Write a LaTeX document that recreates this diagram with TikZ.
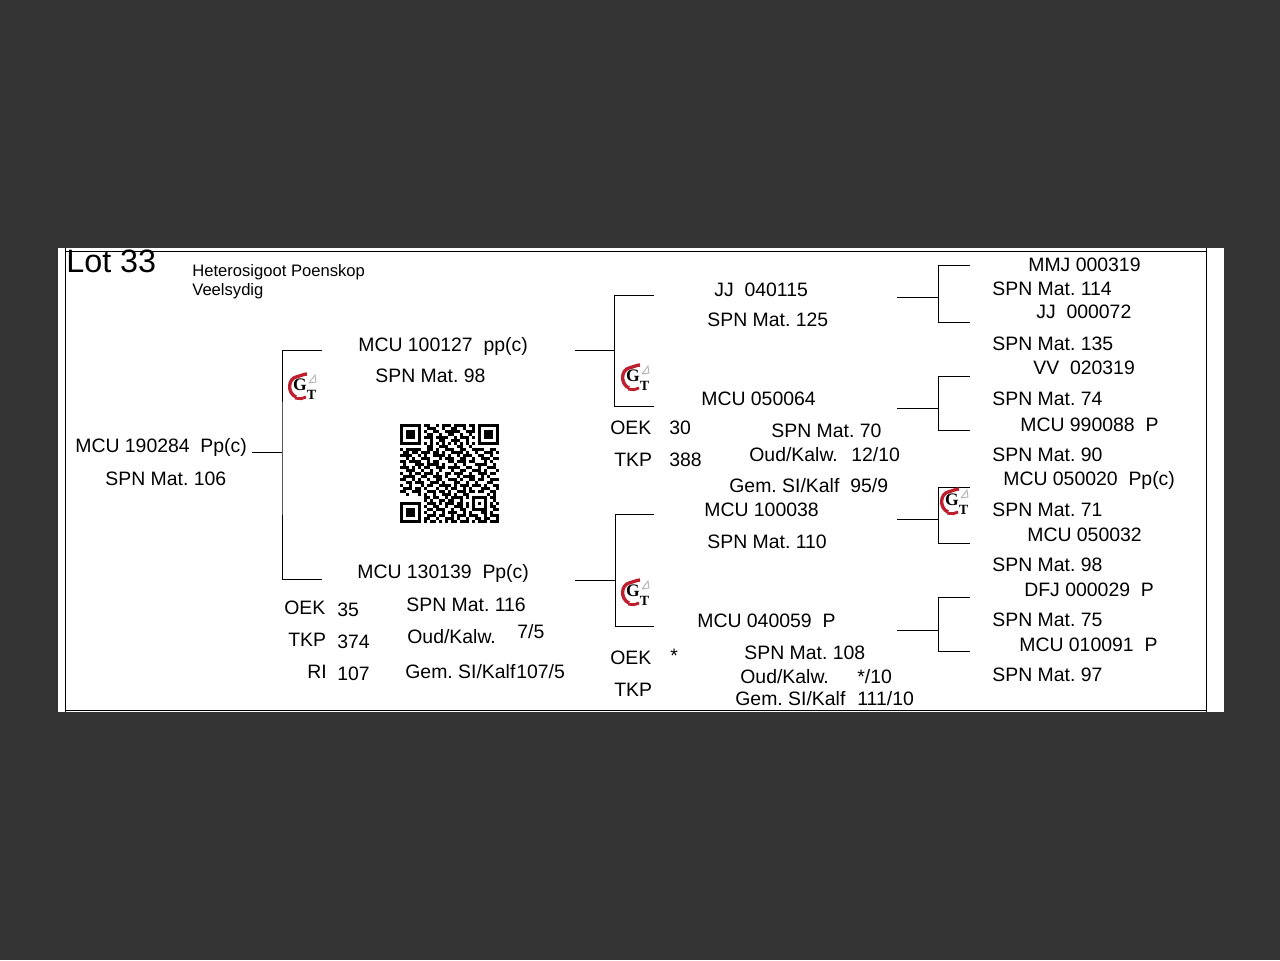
\documentclass[tikz,border=0pt]{standalone}
\usepackage{fontspec}
\setmainfont{Liberation Sans}
\newfontfamily\logofont{Liberation Serif}
\usetikzlibrary{positioning, calc}
\definecolor{cPage}{RGB}{51,51,51}
\definecolor{cLogo}{RGB}{190,30,45}
\tikzset{
	lbl/.style={anchor=base west, inner sep=0pt, font=\frenchspacing\fontsize{11.05}{13}\selectfont, text=black},
	note/.style={anchor=base west, inner sep=0pt, font=\frenchspacing\fontsize{9.45}{11}\selectfont, text=black},
	title/.style={anchor=base west, inner sep=0pt, font=\fontsize{18.4}{20}\selectfont, text=black},
	bracket/.style={draw=black, line width=0.45pt},
	frameline/.style={draw=black, line width=0.55pt},
	pics/gtlogo/.style={code={
		% swoosh, G, T and the small grey bird
		\draw[cLogo, line width=1.9pt] (-7,9) .. controls (-16,5) and (-15,-9) .. (-7,-11) .. controls (-3,-12) and (1,-14) .. (4,-14);
		\draw[cLogo, line width=1.6pt] (-8,10) .. controls (-3,11) and (0,11) .. (3,9);
		\node[inner sep=0pt, text=black, font=\logofont\bfseries\fontsize{10}{11}\selectfont] (-G) at (-3,-3) {G};
		\node[inner sep=0pt, text=black, font=\logofont\bfseries\fontsize{8}{9}\selectfont] (-T) at (8.5,7) {T};
		\draw[black!30, line width=0.5pt] (6,-5) -- (13,-6) -- (12,-13) -- (9,-9) -- (6,-5);
	}},
}
\begin{document}
\begin{tikzpicture}[x=0.02cm, y=-0.02cm]
	\useasboundingbox (0,0) rectangle (1280,960);
	\fill[cPage] (0,0) rectangle (1280,960);
	\fill[white] (58,248) rectangle (1224,712);
	\coordinate (frameNW) at (65.5,251);
	\coordinate (frameNE) at (1206.5,251);
	\coordinate (frameSW) at (65.5,710);
	\coordinate (frameSE) at (1206.5,710);
	\coordinate (frameT0) at (65.5,248);
	\coordinate (frameB1) at (65.5,712);
	\coordinate (frameT1) at (1206.5,248);
	\coordinate (frameB2) at (1206.5,712);
	\draw[frameline] (frameNW) -- (frameNE);
	\draw[frameline] (frameSW) -- (frameSE);
	\draw[frameline] (frameT0) -- (frameB1);
	\draw[frameline] (frameT1) -- (frameB2);

	\node[title] (lot) at (66,272) {Lot 33};
	\node[note] (gene) at (192,276) {Heterosigoot Poenskop};
	\node[note] (kind) at (192,295) {Veelsydig};

	% animal and its parents
	\node[lbl] (main) at (75,452) {MCU 190284~ Pp(c)};
	\node[lbl] (mainSpn) at (105,485) {SPN Mat. 106};
	\node[lbl] (sire) at (358,351) {MCU 100127~ pp(c)};
	\node[lbl] (sireSpn) at (375,382) {SPN Mat. 98};
	\node[lbl] (dam) at (357,578) {MCU 130139~ Pp(c)};
	\node[lbl] (damOek) at (284,614) {OEK};
	\node[lbl] (damOekV) at (337,616) {35};
	\node[lbl] (damSpn) at (406,611) {SPN Mat. 116};
	\node[lbl] (damTkp) at (288,646) {TKP};
	\node[lbl] (damTkpV) at (337,648) {374};
	\node[lbl] (damOud) at (407,643) {Oud/Kalw.};
	\node[lbl] (damOudV) at (517,638) {7/5};
	\node[lbl] (damRi) at (307,678) {RI};
	\node[lbl] (damRiV) at (337,680) {107};
	\node[lbl] (damGem) at (405,678) {Gem. SI/Kalf};
	\node[lbl] (damGemV) at (516,678) {107/5};

	% grandparents
	\node[lbl] (gpA) at (714,296) {JJ~ 040115};
	\node[lbl] (gpASpn) at (707,326) {SPN Mat. 125};
	\node[lbl] (gpB) at (701,405) {MCU 050064};
	\node[lbl] (gpBOek) at (610,434) {OEK};
	\node[lbl] (gpBOekV) at (669,434) {30};
	\node[lbl] (gpBSpn) at (771,437) {SPN Mat. 70};
	\node[lbl] (gpBTkp) at (614,466) {TKP};
	\node[lbl] (gpBTkpV) at (669,466) {388};
	\node[lbl] (gpBOud) at (749,461) {Oud/Kalw.};
	\node[lbl] (gpBOudV) at (851,461) {12/10};
	\node[lbl] (gpBGem) at (729,492) {Gem. SI/Kalf};
	\node[lbl] (gpBGemV) at (850,492) {95/9};
	\node[lbl] (gpC) at (704,516) {MCU 100038};
	\node[lbl] (gpCSpn) at (707,548) {SPN Mat. 110};
	\node[lbl] (gpD) at (697,627) {MCU 040059~ P};
	\node[lbl] (gpDSpn) at (744,659) {SPN Mat. 108};
	\node[lbl] (gpDOek) at (610,664) {OEK};
	\node[lbl] (gpDOekV) at (670,662) {*};
	\node[lbl] (gpDOud) at (740,683) {Oud/Kalw.};
	\node[lbl] (gpDOudV) at (857,683) {*/10};
	\node[lbl] (gpDTkp) at (614,696) {TKP};
	\node[lbl] (gpDGem) at (735,705) {Gem. SI/Kalf};
	\node[lbl] (gpDGemV) at (857,705) {111/10};

	% great grandparents
	\foreach \x/\y/\t [count=\i] in {
		1028/271/{MMJ 000319}, 992/295/{SPN Mat. 114}, 1036/318/{JJ~ 000072}, 992/350/{SPN Mat. 135},
		1033/374/{VV~ 020319}, 992/405/{SPN Mat. 74}, 1020/431/{MCU 990088~ P}, 992/461/{SPN Mat. 90},
		1003/485/{MCU 050020~ Pp(c)}, 992/516/{SPN Mat. 71}, 1027/541/{MCU 050032}, 992/571/{SPN Mat. 98},
		1024/596/{DFJ 000029~ P}, 992/626/{SPN Mat. 75}, 1019/651/{MCU 010091~ P}, 992/681/{SPN Mat. 97}}
		\node[lbl] (ggp\i) at (\x,\y) {\t};

	% brackets: from, spine, to, top, middle, bottom
	\foreach \xa/\xb/\xc/\ya/\yb/\yc [count=\i] in {
		252/282/322/350/452/579, 575/614/654/295/350/406, 575/615/654/514/580/626,
		897/938/970/265/297/322, 897/938/970/376/408/430, 897/938/970/487/519/543, 897/938/970/597/630/651} {
		\coordinate (from\i) at (\xa,\yb);
		\coordinate (knee\i) at (\xb,\yb);
		\coordinate (top\i) at (\xc,\ya);
		\coordinate (bot\i) at (\xc,\yc);
		\draw[bracket] (from\i) -- (knee\i);
		\draw[bracket] (top\i) -| (knee\i) |- (bot\i);
	}

	\pic (logoA) at (303,388) {gtlogo};
	\pic (logoB) at (636,379) {gtlogo};
	\pic (logoC) at (636,594) {gtlogo};
	\pic (logoD) at (955,503) {gtlogo};

	% qr code, one row of start/length runs per line
	\foreach \cells [count=\r from 0] in {
		{0/7,8/2,12/1,14/3,18/4,23/2,26/7},
		{0/1,6/1,9/3,14/1,17/2,21/1,24/1,26/1,32/1},
		{0/1,2/3,6/1,8/1,11/2,15/5,22/3,26/1,28/3,32/1},
		{0/1,2/3,6/1,9/2,13/1,16/2,20/1,23/1,26/1,28/3,32/1},
		{0/1,2/3,6/1,8/3,12/4,18/1,20/3,24/1,26/1,28/3,32/1},
		{0/1,6/1,10/1,13/2,17/3,22/1,26/1,32/1},
		{0/7,8/1,10/1,12/1,14/1,16/1,18/1,20/1,22/1,24/1,26/7},
		{9/2,13/3,19/2,23/1},
		{0/1,2/5,9/2,12/1,15/3,20/2,24/4,30/2},
		{1/2,4/2,7/3,11/2,14/1,17/4,22/1,25/1,28/3,32/1},
		{0/4,6/1,8/1,11/4,16/1,19/1,21/3,26/2,30/1},
		{2/1,4/1,7/3,13/1,15/3,20/2,24/1,27/3,31/2},
		{0/2,3/4,9/1,11/2,16/2,19/3,23/2,28/1,30/1},
		{1/1,5/3,9/4,14/1,18/1,21/1,25/4,31/1},
		{0/3,4/1,6/1,8/2,12/3,16/4,22/2,26/1,29/3},
		{2/3,7/1,10/1,13/1,17/1,20/2,24/3,28/1,32/1},
		{0/1,3/1,5/2,8/3,12/1,15/2,18/3,23/1,26/3,30/2},
		{1/4,7/2,11/3,15/1,19/1,21/4,27/1,29/1},
		{0/2,4/1,6/1,9/1,12/2,16/3,20/1,23/2,26/2,30/3},
		{2/2,5/3,10/3,14/1,18/2,22/1,25/1,29/2},
		{0/1,3/1,7/1,9/2,13/4,18/1,20/3,24/3,28/1,31/2},
		{1/3,5/2,8/1,12/1,15/1,17/2,21/1,23/1,27/3,32/1},
		{0/2,4/3,9/3,13/2,16/1,19/3,23/2,26/2,30/2},
		{2/1,6/1,8/1,11/1,14/3,18/1,21/2,29/1,31/1},
		{8/2,11/2,15/1,17/4,22/1,24/5,30/2},
		{8/1,10/1,13/2,16/2,20/1,24/1,28/1,31/1},
		{0/7,9/3,13/1,15/3,19/2,22/1,24/1,26/1,28/1,30/1,32/1},
		{0/1,6/1,8/1,11/2,15/1,18/3,22/1,24/1,28/1,30/2},
		{0/1,2/3,6/1,9/2,12/3,17/1,20/2,24/5,31/2},
		{0/1,2/3,6/1,8/1,11/1,14/1,16/3,21/1,23/1,27/2,30/1},
		{0/1,2/3,6/1,9/3,13/2,17/1,19/3,23/3,28/1,30/3},
		{0/1,6/1,8/2,12/1,15/3,19/1,22/1,25/2,28/2,32/1},
		{0/7,8/1,10/2,13/1,15/1,17/2,20/3,24/1,26/3,30/3}} {
		\foreach \a/\b in \cells
			\fill[black] ({400+3*\a},{424+3*\r}) rectangle ++({3*\b},3);
	}
\end{tikzpicture}
\end{document}
